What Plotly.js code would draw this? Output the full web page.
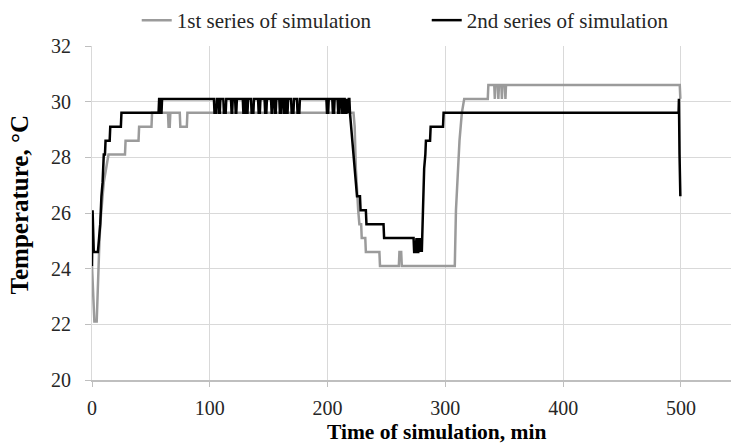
<!DOCTYPE html>
<html>
<head>
<meta charset="utf-8">
<script src="https://cdn.plot.ly/plotly-3.0.1.min.js"></script>
<style>
html,body{margin:0;padding:0;background:#fff;overflow:hidden;}
#chart{width:731px;height:445px;}
</style>
</head>
<body>
<div id="chart"></div>
<script>
// 1st series of simulation (gray): time, min / temperature, °C
const time1 = [0,1,2,4,5,6,7,8,9,10,12,14,28,28.5,39.5,40,50.5,51,64.5,65,66,66.5,74.5,75,80.5,81,
  222,223,224,225,226,227,228.5,229,232,232.5,244,244.5,260.5,261,262.5,263,308,309,310,311,312,313,314,316,
  336,336.5,341.5,342,342.5,344.5,345,345.5,347.5,348,348.5,350.5,351,351.5,499,499.5];
const temp1 = [24.1,23.1,22.1,22.1,23.6,24.6,25.6,26.1,26.6,27.1,27.6,28.1,28.1,28.6,28.6,29.1,29.1,29.6,29.6,29.1,29.1,29.6,29.6,29.1,29.1,29.6,
  29.6,29.1,27.6,26.6,26.1,25.6,25.6,25.1,25.1,24.6,24.6,24.1,24.1,24.6,24.6,24.1,24.1,26.1,27.1,28.1,28.6,29.1,29.6,30.1,
  30.1,30.6,30.6,30.1,30.6,30.6,30.1,30.6,30.6,30.1,30.6,30.6,30.1,30.6,30.6,30.1];

// 2nd series of simulation (black): time, min / temperature, °C
const time2 = [0,0.5,1.5,5,6,7,8,9,10,11,11.5,15,15.5,24.5,25,56.5,57,57.5,58,59,59.5,
  103.5,104,105.5,106,107.5,108,108.5,109,111.5,112,113.5,114,118,118.5,119,119.5,121.5,122,122.5,123,
  128,128.5,129.5,130,131,131.5,132,132.5,135,135.5,137,137.5,141,141.5,142.5,143,146.5,147,148,148.5,
  152,152.5,153,153.5,155,155.5,156,156.5,159,159.5,160.5,161,162.5,163,164,164.5,165,165.5,166,166.5,
  169,169.5,171,171.5,174,174.5,176,176.5,199,199.5,200.5,201,204,204.5,205.5,206,208.5,209,210,210.5,
  212,212.5,213,213.5,214.5,215,216,216.5,217.5,218,218.5,219,220,221,222,223,224,225,227.5,228,232.5,233,
  247.5,248,273,273.5,274.5,275,275.5,276,277,277.5,278,279,279.5,280,281,282,283,283.5,287,287.5,298,298.5,
  498,498.3,498.8,499.5];
const temp2 = [24.1,26.1,24.6,24.6,25.1,25.6,26.6,27.1,28.1,28.1,28.6,28.6,29.1,29.1,29.6,29.6,30.1,30.1,29.6,29.6,30.1,
  30.1,29.6,29.6,30.1,30.1,29.6,29.6,30.1,30.1,29.6,29.6,30.1,30.1,29.6,29.6,30.1,30.1,29.6,29.6,30.1,
  30.1,29.6,29.6,30.1,30.1,29.6,29.6,30.1,30.1,29.6,29.6,30.1,30.1,29.6,29.6,30.1,30.1,29.6,29.6,30.1,
  30.1,29.6,29.6,30.1,30.1,29.6,29.6,30.1,30.1,29.6,29.6,30.1,30.1,29.6,29.6,30.1,30.1,29.6,29.6,30.1,
  30.1,29.6,29.6,30.1,30.1,29.6,29.6,30.1,30.1,29.6,29.6,30.1,30.1,29.6,29.6,30.1,30.1,29.6,29.6,30.1,
  30.1,29.6,29.6,30.1,30.1,29.6,29.6,30.1,29.6,30.1,30.1,29.6,29.1,28.6,28.1,27.6,27.1,26.6,26.6,26.1,26.1,25.6,
  25.6,25.1,25.1,24.6,24.6,25.1,25.1,24.6,24.6,25.1,24.6,25.1,24.6,24.6,26.1,27.6,28.1,28.6,28.6,29.1,29.1,29.6,
  29.6,30.1,28.1,26.6];

const seriesNames = ['1st series of simulation', '2nd series of simulation'];
const xTicks = [0,100,200,300,400,500];
const yTicks = [20,22,24,26,28,30,32];

const FONT = 'Liberation Serif';
const TXT = '#262626';

const traces = [
  {x: time1, y: temp1, name: seriesNames[0], type: 'scatter', mode: 'lines',
   line: {color: '#9b9b9b', width: 2.5}},
  {x: time2, y: temp2, name: seriesNames[1], type: 'scatter', mode: 'lines',
   line: {color: '#000000', width: 2.5}}
];

const layout = {
  width: 731, height: 445,
  margin: {l: 92, r: 0, t: 42, b: 65, pad: 0},
  paper_bgcolor: '#ffffff', plot_bgcolor: '#ffffff',
  font: {family: FONT, size: 20, color: TXT},
  showlegend: true,
  legend: {orientation: 'h', x: 0.07, xanchor: 'left', y: 1.077, yanchor: 'middle', entrywidth: 245,
           font: {family: FONT, size: 21, color: TXT}, bgcolor: 'rgba(0,0,0,0)', itemwidth: 30},
  xaxis: {range: [0, 542.5], tickmode: 'array', tickvals: xTicks, ticktext: xTicks.map(String),
          showgrid: true, gridcolor: '#d9d9d9', gridwidth: 1, zeroline: false,
          showline: true, linecolor: '#bfbfbf', linewidth: 1.5,
          ticks: 'outside', ticklen: 5, tickcolor: '#bfbfbf', ticklabelstandoff: 4,
          tickfont: {family: FONT, size: 20, color: TXT}},
  yaxis: {range: [20, 32], tickmode: 'array', tickvals: yTicks, ticktext: yTicks.map(String),
          showgrid: true, gridcolor: '#d9d9d9', gridwidth: 1, zeroline: false,
          showline: true, linecolor: '#d9d9d9', linewidth: 1,
          ticks: 'outside', ticklen: 6, tickcolor: '#bfbfbf', ticklabelstandoff: 10,
          tickfont: {family: FONT, size: 20, color: TXT}},
  annotations: [
    {text: '<b>Time of simulation, min</b>', xref: 'paper', yref: 'paper', x: 0.5386, y: -0.157,
     xanchor: 'center', yanchor: 'middle', showarrow: false, font: {family: FONT, size: 21.5, color: '#000'}},
    {text: '<b>Temperature, °C</b>', xref: 'paper', yref: 'paper', x: -0.112, y: 0.524,
     xanchor: 'center', yanchor: 'middle', textangle: -90, showarrow: false, font: {family: FONT, size: 25, color: '#000'}}
  ]
};

Plotly.newPlot('chart', traces, layout, {displayModeBar: false, staticPlot: true});
</script>
</body>
</html>
